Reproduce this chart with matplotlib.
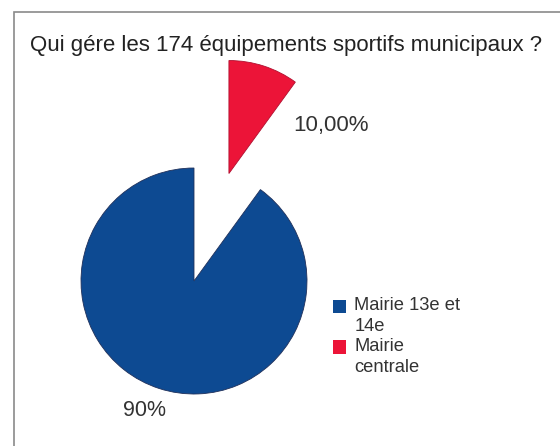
import matplotlib.pyplot as plt
from matplotlib.patches import Rectangle
from matplotlib.legend_handler import HandlerPatch

plt.rcParams['font.family'] = ['Liberation Sans', 'DejaVu Sans']

# Donnees
categories = ['Mairie 13e et\n14e', 'Mairie\ncentrale']
valeurs = [90, 10]
etiquettes = ['90%', '10,00%']
couleurs = ['#0d4a92', '#ec1438']
eclatement = [0, 1.0]

fig = plt.figure(figsize=(5.6, 4.46), dpi=100)
ax = fig.add_axes([0, 0, 1, 1])

# cadre gris du graphique
fig.patches.append(Rectangle((14 / 560, -0.05), 1.0, 1 - 12 / 446 + 0.05,
                             transform=fig.transFigure, fill=False,
                             edgecolor='#8a8a8a', linewidth=1.2))

wedges, _ = ax.pie(valeurs, colors=couleurs, startangle=90, counterclock=True,
                   explode=eclatement, radius=1.0, center=(0, 0),
                   wedgeprops=dict(linewidth=0.6, edgecolor='#20305a'))
wedges[1].set_edgecolor('#b01030')

# echelle: 1 unite = 113 px, centre du camembert a (194, 281) px
r_px = 113
ax.set_xlim(-194 / r_px, (560 - 194) / r_px)
ax.set_ylim(-(446 - 281) / r_px, 281 / r_px)
ax.set_aspect('auto')
ax.axis('off')

ax.text((145 - 194) / r_px, (281 - 410) / r_px, etiquettes[0],
        ha='center', va='center', fontsize=15.5, color='#333333')
ax.text((331 - 194) / r_px, (281 - 125) / r_px, etiquettes[1],
        ha='center', va='center', fontsize=16, color='#333333')

fig.text(30 / 560, 1 - 45 / 446, 'Qui gére les 174 équipements sportifs municipaux ?',
         ha='left', va='center', fontsize=16, color='#222222')


# carre de legende aligne sur la premiere ligne du texte
def carre_haut(legend, orig_handle, xdescent, ydescent, width, height, fontsize):
    return Rectangle((-xdescent, -ydescent + 0.55 * fontsize), width, height)


leg = ax.legend(wedges, categories, loc='upper left',
                bbox_to_anchor=(316 / 560, 1 - 281 / 446), bbox_transform=fig.transFigure,
                frameon=False, fontsize=13.2, handlelength=0.75, handleheight=0.75,
                handletextpad=0.45, labelspacing=0.15,
                handler_map={w: HandlerPatch(patch_func=carre_haut) for w in wedges})
for t in leg.get_texts():
    t.set_color('#333333')
    t.set_linespacing(1.3)
for h in leg.legend_handles:
    h.set_linewidth(0)

fig.savefig('out.png', dpi=100, facecolor='white')
